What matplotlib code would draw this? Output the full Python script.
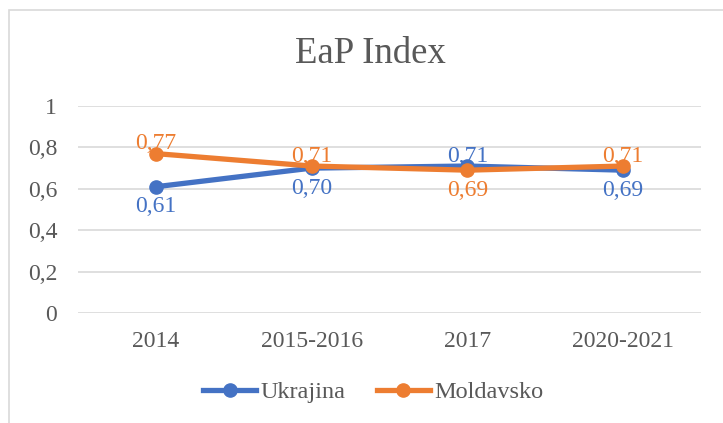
import matplotlib
matplotlib.use("Agg")
import matplotlib.pyplot as plt
from matplotlib.patches import Rectangle
from matplotlib.lines import Line2D

categories = ["2014", "2015-2016", "2017", "2020-2021"]
ukrajina = [0.61, 0.70, 0.71, 0.69]
moldavsko = [0.77, 0.71, 0.69, 0.71]
ukr_labels = ["0,61", "0,70", "0,71", "0,69"]
mol_labels = ["0,77", "0,71", "0,69", "0,71"]
yticks = [0, 0.2, 0.4, 0.6, 0.8, 1.0]
ytick_labels = ["0", "0,2", "0,4", "0,6", "0,8", "1"]

BLUE = "#4472C4"
ORANGE = "#ED7D31"
TXT = "#595959"
GRID = "#D9D9D9"

plt.rcParams['font.family'] = ['Liberation Serif', 'DejaVu Serif']

W, H = 723, 423
fig = plt.figure(figsize=(W / 100, H / 100), dpi=100)
fig.patches.append(Rectangle((9 / W, -0.1), 1.2, 1 - 10 / H + 0.1, transform=fig.transFigure,
                             fill=False, edgecolor=GRID, linewidth=1.2))

ax = fig.add_axes([78 / W, 1 - 313 / H, (701 - 78) / W, (313 - 106) / H])
x = list(range(len(categories)))
ax.set_xlim(-0.5, len(categories) - 0.5)
ax.set_ylim(0, 1)
ax.set_yticks(yticks)
ax.set_yticklabels(ytick_labels)
ax.set_xticks(x)
ax.set_xticklabels(categories)
ax.tick_params(axis='both', length=0, labelsize=17, colors=TXT)
ax.tick_params(axis='y', pad=15)
ax.tick_params(axis='x', pad=13)
for s in ax.spines.values():
    s.set_visible(False)
ax.grid(axis='y', color=GRID, linewidth=1.2)
ax.set_axisbelow(True)

ax.plot(x, ukrajina, color=BLUE, linewidth=3.8, marker='o', markersize=9.5,
        solid_capstyle='round', zorder=3)
ax.plot(x, moldavsko, color=ORANGE, linewidth=3.8, marker='o', markersize=9.5,
        solid_capstyle='round', zorder=4)

for i in x:
    for vals, other, labs, col in ((ukrajina, moldavsko, ukr_labels, BLUE),
                                   (moldavsko, ukrajina, mol_labels, ORANGE)):
        above = vals[i] > other[i]
        off = 7 if above else -14.5
        ax.annotate(labs[i], (i, vals[i]), xytext=(0, off), textcoords='offset points',
                    ha='center', va='center', fontsize=17, color=col, zorder=5)

fig.text(370 / W, 1 - 63 / H, "EaP Index", ha='center', va='baseline', fontsize=26.5, color=TXT)

handles = [Line2D([0], [0], color=BLUE, linewidth=3.8, marker='o', markersize=9.5),
           Line2D([0], [0], color=ORANGE, linewidth=3.8, marker='o', markersize=9.5)]
fig.legend(handles, ["Ukrajina", "Moldavsko"], loc='center', bbox_to_anchor=(373 / W, 1 - 392 / H),
           ncol=2, frameon=False, fontsize=17.5, labelcolor=TXT, handlelength=2.2,
           handletextpad=0.15, columnspacing=1.3)

fig.savefig("out.png", dpi=100)
